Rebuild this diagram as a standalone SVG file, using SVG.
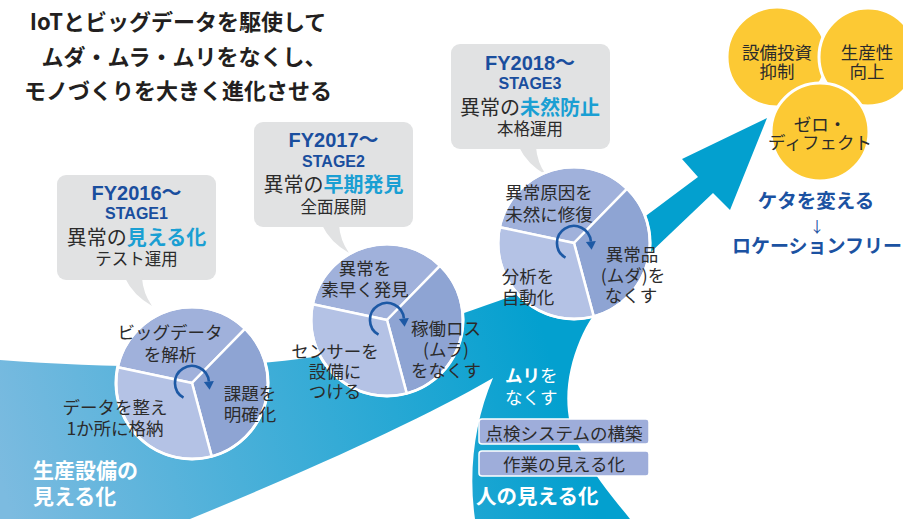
<svg xmlns="http://www.w3.org/2000/svg" width="903" height="519" viewBox="0 0 903 519">
<style>
.jp{font-family:"Noto Sans CJK JP",sans-serif;fill:#2b2b2b}
.pt{font-size:17.5px;text-anchor:middle}
.ttl{font-size:22px;font-weight:bold;text-anchor:middle;fill:#231f20}
.fy{font-family:"Liberation Sans","Noto Sans CJK JP",sans-serif;font-weight:bold;fill:#1a4e9e;text-anchor:middle}
.hl{font-weight:bold;fill:#1a9fd3}
.wb{fill:#fff;font-weight:bold}
.blue{fill:#1b52a2;font-weight:bold;text-anchor:middle}
.seg{stroke:#fff;stroke-width:2.5;stroke-linejoin:round}
.bub{fill:#e1e2e3}
.yc{fill:#fcc934;stroke:#fff;stroke-width:3}
.box{fill:#9eadda;stroke:#fff;stroke-width:1.5}
</style>
<defs>
<linearGradient id="band" gradientUnits="userSpaceOnUse" x1="0" y1="480" x2="540" y2="320">
<stop offset="0" stop-color="#7cbbe0"/>
<stop offset="1" stop-color="#03a0cf"/>
</linearGradient>
<g id="pie">
<path class="seg" fill="#a0b1db" d="M0,0 L-74.3,-15.8 A76,76 0 0 1 53.2,-54.3 Z"/>
<path class="seg" fill="#8ea4d3" d="M0,0 L53.2,-54.3 A76,76 0 0 1 19.7,73.4 Z"/>
<path class="seg" fill="#b4c2e5" d="M0,0 L19.7,73.4 A76,76 0 0 1 -74.3,-15.8 Z"/>
<circle r="76" fill="none" stroke="#fff" stroke-width="3"/>
<path d="M-8.5,14.7 A17,17 0 1 1 16.9,-1.5" fill="none" stroke="#1d59a5" stroke-width="2.6"/>
<polygon points="11.9,-1.1 21.9,-1.9 17.6,6.8" fill="#1d59a5"/>
</g>
<g id="bubble">
<rect x="0" y="0" width="159" height="105" rx="9" class="bub"/>
<path class="bub" d="M68,103 Q76,120 95,131 Q86,118 85,103 Z"/>
</g>
</defs>

<g id="title" class="jp">
<text class="ttl" x="178" y="30">IoTとビッグデータを駆使して</text>
<text class="ttl" x="184" y="64.5">ムダ・ムラ・ムリをなくし、</text>
<text class="ttl" x="178" y="99">モノづくりを大きく進化させる</text>
</g>

<g id="connectors">
<path id="main-band" fill="url(#band)" d="M0,360 C110,368 230,370 313,357 C363,349 460,315 520,293 C570,275 640,220 698,177 L682,159 L767,118 L730,210 L713,193 L650,253 C620,282 595,305 580,340 C565,375 562,415 578,445 C595,478 615,500 630,519 L475,519 C468,470 475,420 493,378 C420,420 310,470 190,519 L0,519 Z"/>
</g>

<g id="band-labels" class="jp">
<text class="wb" font-size="21" x="33" y="478">生産設備の</text>
<text class="wb" font-size="21" x="33" y="504">見える化</text>
<text font-size="17.5" x="505" y="382" style="fill:#fff"><tspan font-weight="bold">ムリ</tspan>を</text>
<text font-size="17.5" x="505" y="404" style="fill:#fff">なくす</text>
<text class="wb" font-size="20.5" x="476" y="504">人の見える化</text>
</g>

<g id="box-inspection">
<rect class="box" x="479" y="419" width="170" height="25" rx="3"/>
<text class="jp pt" x="564" y="440">点検システムの構築</text>
</g>
<g id="box-work">
<rect class="box" x="479" y="451" width="170" height="25" rx="3"/>
<text class="jp pt" x="564" y="471">作業の見える化</text>
</g>

<g id="stage1">
<use href="#bubble" transform="translate(57,175)"/>
<text class="fy" font-size="20" x="136.5" y="200">FY2016～</text>
<text class="fy" font-size="16" x="136.5" y="219">STAGE1</text>
<text class="jp" font-size="20" x="136.5" y="245" text-anchor="middle">異常の<tspan class="hl">見える化</tspan></text>
<text class="jp" font-size="16.5" x="136.5" y="265" text-anchor="middle">テスト運用</text>
</g>
<g id="stage2">
<use href="#bubble" transform="translate(254,122)"/>
<text class="fy" font-size="20" x="333.5" y="147">FY2017～</text>
<text class="fy" font-size="16" x="333.5" y="167">STAGE2</text>
<text class="jp" font-size="20" x="333.5" y="192" text-anchor="middle">異常の<tspan class="hl">早期発見</tspan></text>
<text class="jp" font-size="16.5" x="333.5" y="213" text-anchor="middle">全面展開</text>
</g>
<g id="stage3">
<use href="#bubble" transform="translate(451,44)"/>
<text class="fy" font-size="20" x="530" y="70">FY2018～</text>
<text class="fy" font-size="16" x="530" y="89">STAGE3</text>
<text class="jp" font-size="20" x="530" y="115" text-anchor="middle">異常の<tspan class="hl">未然防止</tspan></text>
<text class="jp" font-size="16.5" x="530" y="135" text-anchor="middle">本格運用</text>
</g>

<g id="pie1" class="jp">
<use href="#pie" transform="translate(192,383)"/>
<text class="pt" x="170" y="339">ビッグデータ</text>
<text class="pt" x="170" y="361">を解析</text>
<text class="pt" x="250" y="400">課題を</text>
<text class="pt" x="250" y="421">明確化</text>
<text class="pt" x="115" y="414">データを整え</text>
<text class="pt" x="115" y="435">1か所に格納</text>
</g>
<g id="pie2" class="jp">
<use href="#pie" transform="translate(387,320)"/>
<text class="pt" x="365" y="275">異常を</text>
<text class="pt" x="365" y="296">素早く発見</text>
<text class="pt" x="446" y="335">稼働ロス</text>
<text class="pt" x="446" y="356">(ムラ)</text>
<text class="pt" x="446" y="377">をなくす</text>
<text class="pt" x="335" y="358">センサーを</text>
<text class="pt" x="335" y="378">設備に</text>
<text class="pt" x="335" y="398">つける</text>
</g>
<g id="pie3" class="jp">
<use href="#pie" transform="translate(574,243)"/>
<text class="pt" x="549" y="199">異常原因を</text>
<text class="pt" x="549" y="221">未然に修復</text>
<text class="pt" x="632" y="261">異常品</text>
<text class="pt" x="633" y="282">(ムダ)を</text>
<text class="pt" x="631" y="302">なくす</text>
<text class="pt" x="528" y="283">分析を</text>
<text class="pt" x="528" y="304">自動化</text>
</g>

<g id="goal-capex" class="jp">
<circle class="yc" cx="777" cy="57" r="50"/>
<text class="pt" font-size="18" x="777" y="59">設備投資</text>
<text class="pt" font-size="18" x="777" y="78">抑制</text>
</g>
<g id="goal-productivity" class="jp">
<circle class="yc" cx="868" cy="57" r="49"/>
<text class="pt" font-size="18" x="867" y="59">生産性</text>
<text class="pt" font-size="18" x="867" y="78">向上</text>
</g>
<g id="goal-zero-defect" class="jp">
<circle class="yc" cx="820" cy="132" r="49"/>
<text class="pt" font-size="17" x="820" y="131">ゼロ・</text>
<text class="pt" font-size="16.5" x="820" y="149">ディフェクト</text>
</g>

<g id="change" class="jp">
<text class="blue" font-size="19.5" x="816" y="208">ケタを変える</text>
<text class="blue" font-size="15" x="817" y="232" style="font-weight:normal">↓</text>
<text class="blue" font-size="19" x="817" y="253">ロケーションフリー</text>
</g>
</svg>
